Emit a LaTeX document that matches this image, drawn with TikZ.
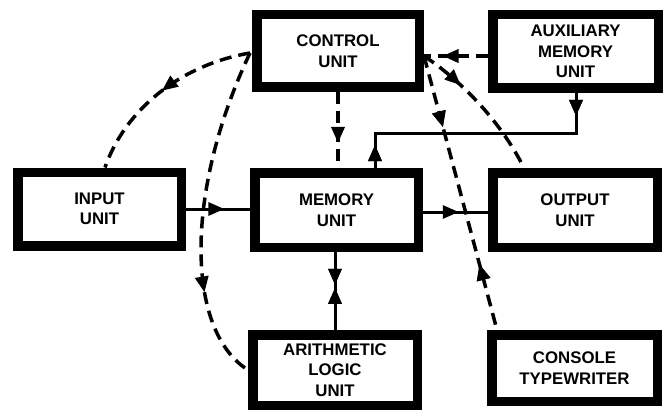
\documentclass[tikz,border=0pt]{standalone}
\usepackage{fontspec}
\setmainfont{Liberation Sans}
\usetikzlibrary{arrows.meta,decorations.markings}
\tikzset{
  unitbox/.style={draw, line width=9.5pt, inner sep=0pt, align=center,
    font=\bfseries\fontsize{16.8}{20.5}\selectfont},
  conn/.style={line width=3pt},
  dashconn/.style={line width=3.5pt, dash pattern=on 12pt off 7pt},
  tri/.tip={Triangle[length=16pt,width=13pt]},
  fwdmark/.style={postaction={decorate}, decoration={markings,
    mark=at position #1 with {\arrow{tri}}}},
  revmark/.style={postaction={decorate}, decoration={markings,
    mark=at position #1 with {\arrowreversed{tri}}}},
}
\begin{document}
\begin{tikzpicture}[x=1pt,y=-1pt]
\useasboundingbox (0,0) rectangle (668,409);
% boxes (outer sizes minus line width)
\node[unitbox, minimum width=162.5pt, minimum height=72.5pt] (control) at (338,51) {CONTROL\\UNIT};
\node[unitbox, minimum width=165.5pt, minimum height=73.5pt] (aux) at (575.5,51.5) {AUXILIARY\\MEMORY\\UNIT};
\node[unitbox, minimum width=163.5pt, minimum height=73.5pt] (input) at (99.5,209) {INPUT\\UNIT};
\node[unitbox, minimum width=163.5pt, minimum height=74.5pt] (memory) at (336.5,210) {MEMORY\\UNIT};
\node[unitbox, minimum width=164.5pt, minimum height=74.5pt] (output) at (575,210) {OUTPUT\\UNIT};
\node[unitbox, minimum width=164.5pt, minimum height=70.5pt] (alu) at (335,370) {ARITHMETIC\\LOGIC\\UNIT};
\node[unitbox, minimum width=165.5pt, minimum height=66.5pt] (console) at (574.5,368) {CONSOLE\\TYPEWRITER};

\coordinate (convR) at (424,56);
\coordinate (convL) at (250,53);
\coordinate (bendA) at (576,133);
\coordinate (bendB) at (375,133);

% solid connectors
\draw[conn, fwdmark=0.6] (input.east) -- (input.east -| memory.west);
\draw[conn, fwdmark=0.55] (memory.east |- 0,212) -- (output.west |- 0,212);
\draw[conn, fwdmark=0.42, revmark=0.46] (alu.north |- memory.south) -- (alu.north);
\draw[conn, fwdmark=23pt, revmark=253pt] (aux.south -| bendA) -- (bendA) -- (bendB) -- (bendB |- memory.north);

% dashed connectors
\draw[dashconn, fwdmark=0.67] (control.south) -- (control.south |- memory.north);
\draw[dashconn, fwdmark=0.71] (aux.west |- convR) -- (convR);
\draw[dashconn, fwdmark=0.31] (convR) .. controls (460,80) and (500,120) .. (output.north -| 524,0);
\draw[dashconn, fwdmark=0.26, revmark=0.76] (convR) -- (console.north -| 497,0);
\draw[dashconn, fwdmark=0.5] (convL) .. controls (180,65) and (125,110) .. (input.north -| 105,0);
\draw[dashconn, fwdmark=0.73] (convL) .. controls (185,190) and (185,330) .. (alu.west);
\end{tikzpicture}
\end{document}
